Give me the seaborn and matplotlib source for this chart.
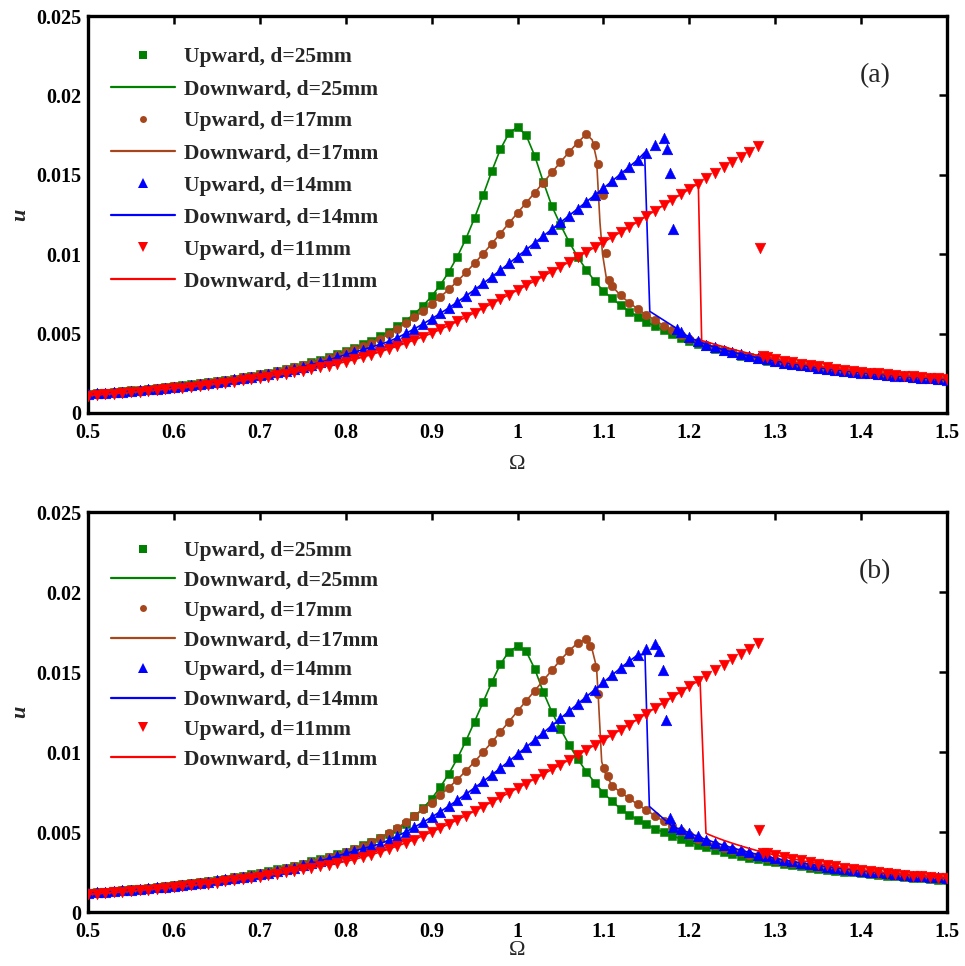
import numpy as np
import matplotlib
matplotlib.use("Agg")
import matplotlib.pyplot as plt
from matplotlib.lines import Line2D
import seaborn as sns

# Frequency sweep grid shared by every branch (upper branches start at 0.50,
# lower branches end at 1.50).
OMEGA = np.round(np.linspace(0.5, 1.5, 101), 2)

# ---------------- panel (a) ----------------
A25_UPPER = [
    0.00120, 0.00124, 0.00128, 0.00132, 0.00137, 0.00142, 0.00146, 0.00151, 0.00157, 0.00162,
    0.00168, 0.00174, 0.00180, 0.00187, 0.00194, 0.00201, 0.00209, 0.00217, 0.00226, 0.00235,
    0.00245, 0.00255, 0.00266, 0.00278, 0.00291, 0.00304, 0.00319, 0.00335, 0.00352, 0.00370,
    0.00390, 0.00410, 0.00432, 0.00456, 0.00483, 0.00512, 0.00545, 0.00582, 0.00625, 0.00675,
    0.00735, 0.00805, 0.00888, 0.00985, 0.01098, 0.01228, 0.01372, 0.01522, 0.01660, 0.01762,
    0.01800, 0.01750, 0.01620, 0.01456, 0.01303, 0.01185, 0.01078, 0.00984, 0.00902, 0.00830,
    0.00768, 0.00722, 0.00678, 0.00639, 0.00605, 0.00574, 0.00546, 0.00521, 0.00497, 0.00475,
    0.00455, 0.00436, 0.00419, 0.00403, 0.00388, 0.00375, 0.00362, 0.00351, 0.00340, 0.00329,
    0.00320, 0.00311, 0.00302, 0.00295, 0.00287, 0.00280, 0.00273, 0.00267, 0.00261, 0.00255,
    0.00249, 0.00244, 0.00239, 0.00234, 0.00230, 0.00225, 0.00221, 0.00217, 0.00213, 0.00209,
    0.00206]

A17_UPPER = [
    0.00119, 0.00123, 0.00127, 0.00131, 0.00136, 0.00141, 0.00145, 0.00150, 0.00156, 0.00161,
    0.00167, 0.00173, 0.00179, 0.00186, 0.00193, 0.00200, 0.00208, 0.00216, 0.00224, 0.00233,
    0.00243, 0.00253, 0.00264, 0.00276, 0.00288, 0.00301, 0.00315, 0.00330, 0.00346, 0.00363,
    0.00381, 0.00400, 0.00420, 0.00443, 0.00468, 0.00497, 0.00530, 0.00565, 0.00602, 0.00642,
    0.00685, 0.00730, 0.00778, 0.00830, 0.00885, 0.00943, 0.01003, 0.01066, 0.01130, 0.01195,
    0.01260, 0.01323, 0.01387, 0.01451, 0.01515, 0.01580, 0.01643, 0.01703, 0.01755]
A17_LOWER = [
    0.00800, 0.00740, 0.00695, 0.00655, 0.00618, 0.00585, 0.00550, 0.00520, 0.00493, 0.00467,
    0.00446, 0.00427, 0.00409, 0.00394, 0.00380, 0.00367, 0.00355, 0.00344, 0.00333, 0.00323,
    0.00314, 0.00305, 0.00297, 0.00289, 0.00282, 0.00275, 0.00269, 0.00263, 0.00257, 0.00251,
    0.00246, 0.00241, 0.00236, 0.00232, 0.00227, 0.00223, 0.00219, 0.00215, 0.00211, 0.00208]
A17_JUMP_UP = ([1.090, 1.094, 1.099, 1.103, 1.107], [0.0169, 0.0157, 0.0137, 0.0101, 0.0084])
A17_JUMP_DOWN = ([1.104, 1.099, 1.096, 1.094, 1.092, 1.087], [0.0083, 0.0100, 0.0120, 0.0140, 0.0160, 0.0172])

A14_UPPER = [
    0.00119, 0.00123, 0.00127, 0.00131, 0.00135, 0.00140, 0.00144, 0.00149, 0.00154, 0.00159,
    0.00165, 0.00171, 0.00177, 0.00183, 0.00190, 0.00197, 0.00204, 0.00212, 0.00220, 0.00228,
    0.00237, 0.00246, 0.00256, 0.00266, 0.00278, 0.00291, 0.00305, 0.00319, 0.00334, 0.00350,
    0.00367, 0.00383, 0.00399, 0.00415, 0.00432, 0.00450, 0.00474, 0.00501, 0.00530, 0.00561,
    0.00593, 0.00627, 0.00662, 0.00699, 0.00737, 0.00776, 0.00816, 0.00857, 0.00899, 0.00942,
    0.00985, 0.01028, 0.01071, 0.01114, 0.01157, 0.01200, 0.01243, 0.01286, 0.01329, 0.01372,
    0.01415, 0.01460, 0.01505, 0.01550, 0.01595, 0.01640, 0.01685, 0.01730]
A14_LOWER = [
    0.00510, 0.00478, 0.00452, 0.00431, 0.00414, 0.00398, 0.00384, 0.00371, 0.00359, 0.00348,
    0.00337, 0.00327, 0.00318, 0.00309, 0.00301, 0.00293, 0.00286, 0.00279, 0.00272, 0.00266,
    0.00260, 0.00254, 0.00249, 0.00244, 0.00239, 0.00234, 0.00230, 0.00226, 0.00222, 0.00218,
    0.00214, 0.00210]
A14_JUMP_UP = ([1.174, 1.178, 1.181, 1.186], [0.0166, 0.0151, 0.0116, 0.0053])
A14_JUMP_DOWN = ([1.186, 1.154, 1.148], [0.0053, 0.0064, 0.0164])

A11_UPPER = [
    0.00110, 0.00114, 0.00118, 0.00122, 0.00126, 0.00130, 0.00135, 0.00140, 0.00145, 0.00150,
    0.00155, 0.00160, 0.00166, 0.00172, 0.00178, 0.00184, 0.00191, 0.00198, 0.00205, 0.00213,
    0.00221, 0.00229, 0.00238, 0.00247, 0.00256, 0.00266, 0.00276, 0.00287, 0.00298, 0.00310,
    0.00323, 0.00337, 0.00352, 0.00368, 0.00385, 0.00403, 0.00421, 0.00440, 0.00460, 0.00481,
    0.00502, 0.00526, 0.00551, 0.00577, 0.00604, 0.00632, 0.00660, 0.00689, 0.00717, 0.00745,
    0.00774, 0.00803, 0.00832, 0.00861, 0.00891, 0.00921, 0.00951, 0.00982, 0.01013, 0.01044,
    0.01075, 0.01107, 0.01139, 0.01171, 0.01205, 0.01240, 0.01274, 0.01308, 0.01342, 0.01376,
    0.01410, 0.01444, 0.01478, 0.01512, 0.01546, 0.01580, 0.01613, 0.01646, 0.01680]
A11_LOWER = [
    0.00448, 0.00432, 0.00417, 0.00402, 0.00388, 0.00375, 0.00362, 0.00350, 0.00339, 0.00329,
    0.00319, 0.00310, 0.00302, 0.00294, 0.00287, 0.00280, 0.00273, 0.00267, 0.00261, 0.00255,
    0.00250, 0.00245, 0.00240, 0.00235, 0.00231, 0.00227, 0.00223, 0.00219, 0.00215]
A11_JUMP_UP = ([1.2825, 1.286], [0.0104, 0.0036])
A11_JUMP_DOWN = ([1.2144, 1.2105], [0.00456, 0.01445])

# ---------------- panel (b) ----------------
B25_UPPER = [
    0.00120, 0.00124, 0.00128, 0.00132, 0.00137, 0.00142, 0.00146, 0.00151, 0.00157, 0.00162,
    0.00168, 0.00174, 0.00180, 0.00187, 0.00194, 0.00201, 0.00209, 0.00217, 0.00226, 0.00235,
    0.00245, 0.00255, 0.00266, 0.00278, 0.00290, 0.00303, 0.00316, 0.00331, 0.00346, 0.00360,
    0.00375, 0.00395, 0.00416, 0.00439, 0.00464, 0.00490, 0.00519, 0.00553, 0.00597, 0.00648,
    0.00708, 0.00780, 0.00863, 0.00960, 0.01070, 0.01190, 0.01312, 0.01436, 0.01548, 0.01628,
    0.01660, 0.01630, 0.01520, 0.01375, 0.01250, 0.01145, 0.01045, 0.00957, 0.00878, 0.00808,
    0.00745, 0.00692, 0.00645, 0.00607, 0.00576, 0.00547, 0.00521, 0.00498, 0.00477, 0.00457,
    0.00438, 0.00421, 0.00405, 0.00390, 0.00376, 0.00363, 0.00351, 0.00340, 0.00329, 0.00319,
    0.00310, 0.00301, 0.00293, 0.00285, 0.00278, 0.00271, 0.00265, 0.00258, 0.00252, 0.00247,
    0.00242, 0.00237, 0.00232, 0.00227, 0.00223, 0.00218, 0.00214, 0.00210, 0.00207, 0.00203,
    0.00200]

B17_UPPER = [
    0.00119, 0.00123, 0.00127, 0.00131, 0.00136, 0.00141, 0.00145, 0.00150, 0.00156, 0.00161,
    0.00167, 0.00173, 0.00179, 0.00186, 0.00193, 0.00200, 0.00208, 0.00216, 0.00224, 0.00233,
    0.00243, 0.00253, 0.00264, 0.00276, 0.00288, 0.00301, 0.00314, 0.00328, 0.00343, 0.00359,
    0.00376, 0.00394, 0.00414, 0.00437, 0.00463, 0.00492, 0.00525, 0.00561, 0.00600, 0.00641,
    0.00684, 0.00729, 0.00777, 0.00828, 0.00882, 0.00939, 0.00999, 0.01061, 0.01125, 0.01190,
    0.01255, 0.01319, 0.01383, 0.01447, 0.01511, 0.01575, 0.01632, 0.01682, 0.01705]
B17_LOWER = [
    0.00790, 0.00748, 0.00710, 0.00672, 0.00636, 0.00602, 0.00568, 0.00537, 0.00508, 0.00482,
    0.00459, 0.00438, 0.00419, 0.00402, 0.00386, 0.00372, 0.00359, 0.00347, 0.00335, 0.00325,
    0.00315, 0.00306, 0.00297, 0.00289, 0.00282, 0.00275, 0.00268, 0.00262, 0.00256, 0.00250,
    0.00245, 0.00240, 0.00235, 0.00230, 0.00226, 0.00222, 0.00218, 0.00214, 0.00210, 0.00207]
B17_JUMP_UP = ([1.084, 1.090, 1.094, 1.101, 1.105], [0.0166, 0.0153, 0.0136, 0.0090, 0.0085])
B17_JUMP_DOWN = ([1.102, 1.098, 1.094, 1.092, 1.086], [0.0087, 0.0094, 0.0135, 0.0153, 0.0166])

B14_UPPER = [
    0.00119, 0.00123, 0.00127, 0.00131, 0.00135, 0.00140, 0.00144, 0.00149, 0.00154, 0.00159,
    0.00165, 0.00171, 0.00177, 0.00183, 0.00190, 0.00197, 0.00204, 0.00212, 0.00220, 0.00228,
    0.00237, 0.00246, 0.00256, 0.00266, 0.00278, 0.00291, 0.00305, 0.00319, 0.00334, 0.00350,
    0.00366, 0.00381, 0.00396, 0.00411, 0.00426, 0.00449, 0.00474, 0.00501, 0.00530, 0.00561,
    0.00593, 0.00627, 0.00662, 0.00699, 0.00737, 0.00776, 0.00816, 0.00857, 0.00899, 0.00942,
    0.00986, 0.01030, 0.01075, 0.01120, 0.01165, 0.01210, 0.01255, 0.01300, 0.01345, 0.01390,
    0.01435, 0.01480, 0.01525, 0.01567, 0.01607, 0.01645, 0.01678]
B14_LOWER = [
    0.00518, 0.00494, 0.00472, 0.00452, 0.00434, 0.00417, 0.00401, 0.00386, 0.00372, 0.00359,
    0.00347, 0.00336, 0.00326, 0.00316, 0.00307, 0.00299, 0.00291, 0.00284, 0.00277, 0.00270,
    0.00264, 0.00258, 0.00252, 0.00247, 0.00242, 0.00237, 0.00232, 0.00228, 0.00224, 0.00220,
    0.00216, 0.00212]
B14_JUMP_UP = ([1.165, 1.169, 1.173, 1.1775, 1.1814], [0.0163, 0.0151, 0.0120, 0.0059, 0.0053])
B14_JUMP_DOWN = ([1.1814, 1.1535, 1.1484], [0.0053, 0.0066, 0.0161])

B11_UPPER = [
    0.00110, 0.00114, 0.00118, 0.00122, 0.00126, 0.00130, 0.00135, 0.00140, 0.00145, 0.00150,
    0.00155, 0.00160, 0.00166, 0.00172, 0.00178, 0.00184, 0.00191, 0.00198, 0.00205, 0.00213,
    0.00221, 0.00229, 0.00238, 0.00247, 0.00256, 0.00266, 0.00276, 0.00286, 0.00295, 0.00305,
    0.00316, 0.00329, 0.00343, 0.00358, 0.00375, 0.00393, 0.00412, 0.00432, 0.00453, 0.00477,
    0.00500, 0.00525, 0.00550, 0.00576, 0.00603, 0.00631, 0.00659, 0.00688, 0.00716, 0.00745,
    0.00774, 0.00803, 0.00832, 0.00861, 0.00891, 0.00921, 0.00951, 0.00982, 0.01013, 0.01044,
    0.01075, 0.01107, 0.01139, 0.01171, 0.01205, 0.01240, 0.01274, 0.01308, 0.01342, 0.01376,
    0.01410, 0.01444, 0.01478, 0.01512, 0.01546, 0.01580, 0.01613, 0.01646, 0.01680]
B11_LOWER = [
    0.00490, 0.00468, 0.00448, 0.00430, 0.00413, 0.00397, 0.00382, 0.00368, 0.00356, 0.00344,
    0.00333, 0.00322, 0.00312, 0.00303, 0.00294, 0.00285, 0.00277, 0.00270, 0.00263, 0.00256,
    0.00250, 0.00244, 0.00239, 0.00233, 0.00228, 0.00224, 0.00219, 0.00215, 0.00211]
B11_JUMP_UP = ([1.2815, 1.2862], [0.00513, 0.00367])
B11_JUMP_DOWN = ([1.2194, 1.2125], [0.00492, 0.0145])

NO_JUMP = ([], [])

PANELS = [
    ("(a)", {
        "25": (A25_UPPER, [], NO_JUMP, NO_JUMP),
        "17": (A17_UPPER, A17_LOWER, A17_JUMP_UP, A17_JUMP_DOWN),
        "14": (A14_UPPER, A14_LOWER, A14_JUMP_UP, A14_JUMP_DOWN),
        "11": (A11_UPPER, A11_LOWER, A11_JUMP_UP, A11_JUMP_DOWN),
    }),
    ("(b)", {
        "25": (B25_UPPER, [], NO_JUMP, NO_JUMP),
        "17": (B17_UPPER, B17_LOWER, B17_JUMP_UP, B17_JUMP_DOWN),
        "14": (B14_UPPER, B14_LOWER, B14_JUMP_UP, B14_JUMP_DOWN),
        "11": (B11_UPPER, B11_LOWER, B11_JUMP_UP, B11_JUMP_DOWN),
    }),
]

GAPS = ["25", "17", "14", "11"]
COLORS = {"25": "#008000", "17": "#A5461C", "14": "#0000FF", "11": "#FF0000"}
MARKERS = {"25": "s", "17": "o", "14": "^", "11": "v"}
SCATTER_SIZE = {"25": 34, "17": 38, "14": 58, "11": 58}
LEGEND_MS = {"25": 5.4, "17": 5.0, "14": 7.2, "11": 7.2}

X_TICKS = [0.5, 0.6, 0.7, 0.8, 0.9, 1.0, 1.1, 1.2, 1.3, 1.4, 1.5]
X_TICK_LABELS = ["0.5", "0.6", "0.7", "0.8", "0.9", "1", "1.1", "1.2", "1.3", "1.4", "1.5"]
Y_TICKS = [0, 0.005, 0.01, 0.015, 0.02, 0.025]
Y_TICK_LABELS = ["0", "0.005", "0.01", "0.015", "0.02", "0.025"]


def sweep_path(upper, lower, jump):
    """Join the upper branch, the jump transient and the lower branch of one sweep."""
    upper = np.asarray(upper, dtype=float)
    lower = np.asarray(lower, dtype=float)
    om_up = OMEGA[:len(upper)]
    om_lo = OMEGA[len(OMEGA) - len(lower):]
    j_om = np.asarray(jump[0], dtype=float)
    j_u = np.asarray(jump[1], dtype=float)
    if len(j_om) == 0:
        om = np.concatenate([om_up, om_lo])
        u = np.concatenate([upper, lower])
    else:
        lo, hi = j_om.min(), j_om.max()
        om = np.concatenate([om_up[om_up < lo], j_om, om_lo[om_lo > hi]])
        u = np.concatenate([upper[om_up < lo], j_u, lower[om_lo > hi]])
    order = np.argsort(om, kind="stable")
    return om[order], u[order]


sns.set_theme(style="white")
plt.rcParams["font.family"] = ["Liberation Serif", "DejaVu Serif"]
plt.rcParams["axes.unicode_minus"] = False

fig = plt.figure(figsize=(9.65, 9.66), dpi=100)
ax_rects = [
    [88 / 965, 1 - 413 / 966, 859 / 965, 397 / 966],
    [88 / 965, 1 - 912 / 966, 859 / 965, 400 / 966],
]
xlabel_offsets = [-0.105, -0.072]
legend_spacing = [0.56, 0.45]
legend_top = [0.922, 0.927]

for (tag, series), rect, xoff, lspace, ltop in zip(PANELS, ax_rects, xlabel_offsets,
                                                  legend_spacing, legend_top):
    ax = fig.add_axes(rect)
    z = 2
    for d in GAPS:
        upper, lower, jump_up, jump_down = series[d]
        c = COLORS[d]
        om_u, u_u = sweep_path(upper, lower, jump_up)
        om_d, u_d = sweep_path(upper, lower, jump_down)
        sns.scatterplot(x=om_u, y=u_u, ax=ax, marker=MARKERS[d], s=SCATTER_SIZE[d],
                        color=c, edgecolor=c, linewidth=0.4, legend=False, zorder=z)
        sns.lineplot(x=om_d, y=u_d, ax=ax, color=c, linewidth=1.2, sort=False,
                     estimator=None, legend=False, zorder=z + 0.5)
        z += 1

    ax.set_xlim(0.5, 1.5)
    ax.set_ylim(0, 0.025)
    ax.set_xticks(X_TICKS)
    ax.set_xticklabels(X_TICK_LABELS, fontsize=14.5, fontweight="bold")
    ax.set_yticks(Y_TICKS)
    ax.set_yticklabels(Y_TICK_LABELS, fontsize=14.5, fontweight="bold")
    ax.tick_params(direction="in", top=True, right=True, length=6, width=1.8,
                   colors="black")
    ax.tick_params(axis="x", pad=7)
    ax.tick_params(axis="y", pad=5)
    for sp in ax.spines.values():
        sp.set_visible(True)
        sp.set_linewidth(2.4)
        sp.set_color("black")
    ax.grid(False)

    ax.set_xlabel("Ω", fontsize=16)
    ax.xaxis.set_label_coords(0.5, xoff)
    ax.set_ylabel("u", fontsize=16, fontweight="bold", fontstyle="italic")
    ax.yaxis.set_label_coords(-0.067, 0.5)

    ax.text(0.916, 0.85, tag, transform=ax.transAxes, fontsize=20,
            ha="center", va="center")

    handles, labels = [], []
    for d in GAPS:
        c = COLORS[d]
        handles.append(Line2D([], [], linestyle="None", marker=MARKERS[d],
                              markersize=LEGEND_MS[d], color=c, markeredgewidth=0))
        labels.append(f"Upward, d={d}mm")
        handles.append(Line2D([], [], color=c, linewidth=1.6))
        labels.append(f"Downward, d={d}mm")
    ax.legend(handles, labels, loc="upper left", bbox_to_anchor=(0.0268, ltop),
              frameon=False, borderpad=0, borderaxespad=0, handlelength=2.95,
              handletextpad=0.42, labelspacing=lspace, numpoints=1,
              prop={"family": "Liberation Serif", "weight": "bold", "size": 15.5})

fig.savefig("out.png", dpi=100)
